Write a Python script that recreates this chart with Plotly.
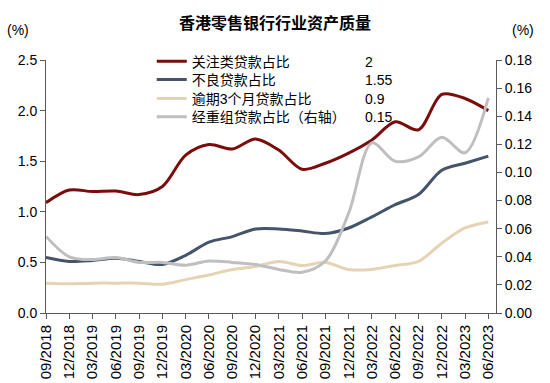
import plotly.graph_objects as go

quarters = ["09/2018", "12/2018", "03/2019", "06/2019", "09/2019", "12/2019",
            "03/2020", "06/2020", "09/2020", "12/2020", "03/2021", "06/2021",
            "09/2021", "12/2021", "03/2022", "06/2022", "09/2022", "12/2022",
            "03/2023", "06/2023"]

special_mention = [1.09, 1.215, 1.20, 1.205, 1.17, 1.25, 1.56, 1.665, 1.62, 1.72,
                   1.61, 1.42, 1.48, 1.58, 1.71, 1.89, 1.81, 2.16, 2.12, 2.00]
npl = [0.55, 0.51, 0.52, 0.54, 0.51, 0.48, 0.57, 0.70, 0.755, 0.83,
       0.83, 0.81, 0.785, 0.84, 0.95, 1.07, 1.17, 1.41, 1.48, 1.55]
overdue_3m = [0.295, 0.29, 0.295, 0.295, 0.295, 0.285, 0.33, 0.375, 0.43, 0.46,
              0.51, 0.47, 0.50, 0.43, 0.43, 0.47, 0.51, 0.69, 0.84, 0.90]
rescheduled = [0.0545, 0.040, 0.038, 0.0395, 0.036, 0.036, 0.034, 0.037, 0.036, 0.0345,
               0.031, 0.029, 0.037, 0.071, 0.121, 0.108, 0.111, 0.125, 0.114, 0.153]

series_names = ["关注类贷款占比", "不良贷款占比", "逾期3个月贷款占比", "经重组贷款占比（右轴）"]
legend_values = ["2", "1.55", "0.9", "0.15"]
colors = ["#7B0C0C", "#44546A", "#E6D3B3", "#BFBFBF"]

x = list(range(len(quarters)))
FONT = "Liberation Sans, Arial, Noto Sans CJK SC, sans-serif"

# plot-area geometry in pixels (for placing legend rows and labels)
L, T, W, H = 46, 60, 450, 253.5
row_y = [61.7, 80.0, 99.0, 117.3]
legend_ids = ["legend", "legend2", "legend3", "legend4"]

fig = go.Figure()
data = [special_mention, npl, overdue_3m, rescheduled]
for i, (name, ys, c) in enumerate(zip(series_names, data, colors)):
    fig.add_trace(go.Scatter(
        x=x, y=ys, name=name, mode="lines",
        line=dict(color=c, width=3, shape="spline", smoothing=0.9),
        yaxis="y2" if i == 3 else "y",
        legend=legend_ids[i],
    ))

axis_color = "#595959"
layout_legends = {}
for lid, ry in zip(legend_ids, row_y):
    layout_legends[lid] = dict(x=0.235, y=(T + H - ry) / H, xanchor="left", yanchor="middle",
                               bgcolor="rgba(0,0,0,0)", borderwidth=0,
                               font=dict(size=14), itemwidth=30)

fig.update_layout(
    width=550, height=383,
    margin=dict(l=L, r=550 - L - W, t=T, b=383 - T - H, autoexpand=False),
    paper_bgcolor="white", plot_bgcolor="white",
    font=dict(family=FONT, size=14, color="#000000"),
    title=dict(text="<b>香港零售银行行业资产质量</b>", x=0.5, xref="container",
               y=1 - 23 / 383, yref="container", yanchor="middle",
               font=dict(size=16, color="#000000")),
    xaxis=dict(range=[0, 19.33], tickvals=x, ticktext=quarters, tickangle=-90,
               showline=True, linecolor=axis_color, linewidth=1,
               ticks="outside", ticklen=5, tickcolor=axis_color, automargin=False,
               showgrid=False, zeroline=False, tickfont=dict(size=15)),
    yaxis=dict(range=[0, 2.5], dtick=0.5, tickformat=".1f", automargin=False,
               showline=True, linecolor=axis_color, linewidth=1,
               ticks="outside", ticklen=5, tickcolor=axis_color,
               showgrid=False, zeroline=False, tickfont=dict(size=14)),
    yaxis2=dict(range=[0, 0.18], dtick=0.02, tickformat=".2f", overlaying="y",
                side="right", showline=True, linecolor=axis_color, linewidth=1,
                ticks="outside", ticklen=5, tickcolor=axis_color, automargin=False,
                showgrid=False, zeroline=False, tickfont=dict(size=14)),
    showlegend=True,
    **layout_legends,
)

# unit labels
fig.add_annotation(text="(%)", x=(18 - L) / W, y=(T + H - 30) / H, xref="paper", yref="paper",
                   xanchor="center", yanchor="middle", showarrow=False, font=dict(size=14))
fig.add_annotation(text="(%)", x=(523 - L) / W, y=(T + H - 30) / H, xref="paper", yref="paper",
                   xanchor="center", yanchor="middle", showarrow=False, font=dict(size=14))

# latest values next to legend entries
for val, ry in zip(legend_values, row_y):
    fig.add_annotation(text=val, x=(363 - L) / W, y=(T + H - ry) / H,
                       xref="paper", yref="paper", xanchor="left", yanchor="middle",
                       showarrow=False, font=dict(size=14))

fig.write_html("out.html", config={"displayModeBar": False},
               post_script="document.body.style.margin='0';document.body.style.padding='0';")
